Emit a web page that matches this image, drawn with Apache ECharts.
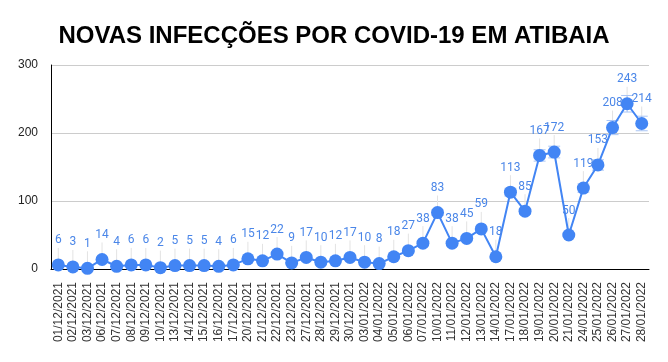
<!DOCTYPE html>
<html><head><meta charset="utf-8">
<script src="https://cdn.jsdelivr.net/npm/echarts@6/dist/echarts.min.js"></script>
<style>html,body{margin:0;padding:0;background:#fff}#c{width:668px;height:362px}</style>
</head><body><div id="c"></div>
<script>
const categories = ["01/12/2021","02/12/2021","03/12/2021","06/12/2021","07/12/2021","08/12/2021","09/12/2021","10/12/2021","13/12/2021","14/12/2021","15/12/2021","16/12/2021","17/12/2021","20/12/2021","21/12/2021","22/12/2021","23/12/2021","27/12/2021","28/12/2021","29/12/2021","30/12/2021","03/01/2022","04/01/2022","05/01/2022","06/01/2022","07/01/2022","10/01/2022","11/01/2022","12/01/2022","13/01/2022","14/01/2022","17/01/2022","18/01/2022","19/01/2022","20/01/2022","21/01/2022","24/01/2022","25/01/2022","26/01/2022","27/01/2022","28/01/2022"];
const values = [6,3,1,14,4,6,6,2,5,5,5,4,6,15,12,22,9,17,10,12,17,10,8,18,27,38,83,38,45,59,18,113,85,167,172,50,119,153,208,243,214];
const errorPct = 0.05;
const yTicks = [0,100,200,300];

const chart = echarts.init(document.getElementById('c'));
chart.setOption({
  animation: false,
  title: {
    text: 'NOVAS INFECÇÕES POR COVID-19 EM ATIBAIA',
    left: 'center', top: 19,
    textStyle: {fontFamily: 'Liberation Sans, Arial', fontWeight: 'bold', fontSize: 24, color: '#000'}
  },
  grid: {left: 51, right: 19, top: 65, bottom: 93},
  xAxis: {
    type: 'category', data: categories, boundaryGap: true,
    axisLine: {lineStyle: {color: '#000', width: 1}},
    axisTick: {alignWithLabel: true, length: 6, lineStyle: {color: '#000'}},
    axisLabel: {rotate: 90, interval: 0, fontFamily: 'Liberation Sans, Arial', fontSize: 12, color: '#333', margin: 13}
  },
  yAxis: {
    type: 'value', min: yTicks[0], max: yTicks[yTicks.length-1], interval: 100,
    axisLine: {show: true, lineStyle: {color: '#000'}},
    axisTick: {show: false},
    splitLine: {lineStyle: {color: '#ccc'}},
    axisLabel: {fontFamily: 'Liberation Sans, Arial', fontSize: 12, color: '#222', margin: 13}
  },
  series: [
    {
      type: 'custom',
      z: 1,
      data: values.map((v, i) => [i, v]),
      renderItem: function (params, api) {
        const i = api.value(0), v = api.value(1);
        const p = api.coord([i, v]);
        const hi = api.coord([i, v * (1 + errorPct)]);
        const lo = api.coord([i, v * (1 - errorPct)]);
        const c = '#a9c5f5';
        return {
          type: 'group',
          children: [
            {type: 'line', shape: {x1: p[0], y1: p[1], x2: p[0], y2: p[1] - 17}, style: {stroke: '#e3e3e3', lineWidth: 1}},
            {type: 'line', shape: {x1: p[0], y1: hi[1], x2: p[0], y2: lo[1]}, style: {stroke: c, lineWidth: 1}},
            {type: 'line', shape: {x1: p[0] - 6, y1: hi[1], x2: p[0] + 6, y2: hi[1]}, style: {stroke: c, lineWidth: 1}},
            {type: 'line', shape: {x1: p[0] - 6, y1: lo[1], x2: p[0] + 6, y2: lo[1]}, style: {stroke: c, lineWidth: 1}}
          ]
        };
      }
    },
    {
      type: 'line',
      z: 3,
      data: values,
      symbol: 'circle', symbolSize: 13,
      lineStyle: {color: '#4285f4', width: 2},
      itemStyle: {color: '#4285f4'},
      label: {
        show: true, position: 'top', distance: 12,
        fontFamily: 'Roboto, Arial', fontSize: 12, color: '#4a86e8'
      }
    }
  ]
});
</script>
</body></html>
